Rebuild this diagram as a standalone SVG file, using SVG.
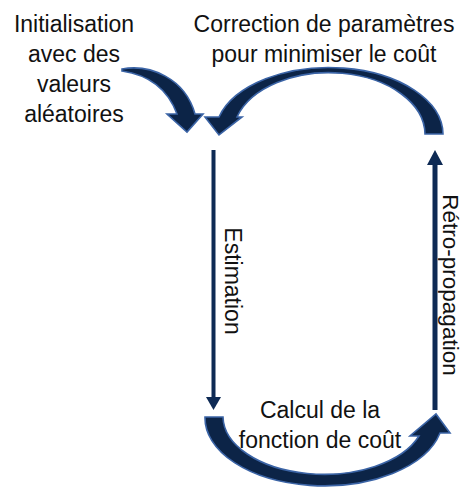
<svg xmlns="http://www.w3.org/2000/svg" width="462" height="487" viewBox="0 0 462 487">
<defs>
<style>
.t{font-family:"Liberation Sans",Arial,sans-serif;font-size:23px;fill:#111;text-anchor:middle}
.curve{fill:#0c2447;stroke:#3b64a6;stroke-width:1.6;stroke-linejoin:miter}
.line{stroke:#0e2a54;fill:none}
.head{fill:#0e2a54}
</style>
</defs>
<rect width="462" height="487" fill="#fff"/>
<g id="init">
<text class="t" x="74" y="32">Initialisation</text>
<text class="t" x="74" y="62">avec des</text>
<text class="t" x="74" y="92">valeurs</text>
<text class="t" x="74" y="122">aléatoires</text>
</g>
<g id="correction">
<text class="t" x="324" y="32">Correction de paramètres</text>
<text class="t" x="324" y="62">pour minimiser le coût</text>
</g>
<g id="calcul">
<text class="t" x="320" y="418">Calcul de la</text>
<text class="t" x="320" y="448">fonction de coût</text>
</g>
<g id="connectors">
<path class="curve" d="M122,69 C150,64 185,78 195,114 L203,114 L187,132 L167,114 L177,114 C168,90 150,75 122,71 Z"/>
<path class="curve" d="M443,134 A114,67 0 0 0 219,117 L205,117 L219,135 L242,117 L237,117 A96,62 0 0 1 425,134 Z"/>
<path class="curve" d="M205,417 A119,68 0 0 0 440,433 L450,433 L436,414 L410,436 L419,436 A101,58 0 0 1 223,417 Z"/>
<line class="line" x1="213.5" y1="150" x2="213.5" y2="399" stroke-width="4"/>
<polygon class="head" points="206,397 221,397 213.5,410"/>
<line class="line" x1="435" y1="162" x2="435" y2="410" stroke-width="5"/>
<polygon class="head" points="427,165 443,165 435,150"/>
<text class="t" transform="translate(225,281) rotate(90)" x="0" y="0">Estimation</text>
<text class="t" transform="translate(443,285) rotate(90)" x="0" y="0" style="font-size:22.5px">Rétro-propagation</text>
</g>
</svg>
